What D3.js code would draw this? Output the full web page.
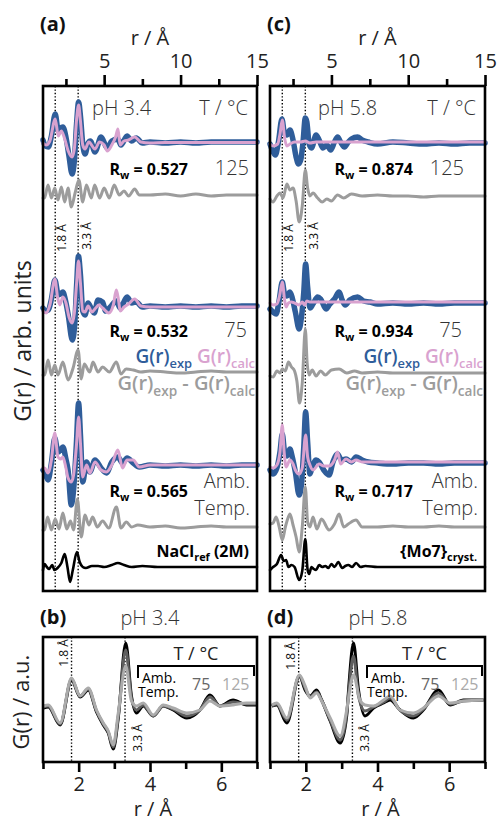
<!DOCTYPE html>
<html>
<head>
<meta charset="utf-8">
<script src="https://cdn.jsdelivr.net/npm/d3@7/dist/d3.min.js"></script>
<style>
  body { margin: 0; background: #fff; }
  svg { display: block; font-family: 'Open Sans', 'Noto Sans', sans-serif; }
</style>
</head>
<body>
<svg id="chart" width="497" height="821"></svg>
<script>
// ---- data (r in Å, G(r) in arbitrary units) ----
const rMarkers = [1.8, 3.3];
const topMajor = [5, 10, 15];
const topMinor = [2.5, 7.5, 12.5];
const botMajor = [2, 4, 6];
const botMinor = [1, 3, 5, 7];

const tempLabels = ['125', '75', 'Amb. Temp.'];
const rwA = ['0.527', '0.532', '0.565'];
const rwC = ['0.874', '0.934', '0.717'];

// vertical stacking offsets (arb. units)
const expOffA = [450, 286, 126];
const diffOffA = [396, 219, 64];
const expOffC = [449, 289, 129];
const diffOffC = [395, 218, 64];
const refOff = 24;

// (a) pH 3.4
const a125Exp = [[1.0,1],[1.15,-5],[1.35,-6],[1.55,5],[1.8,27],[2.0,10],[2.15,13],[2.3,14],[2.5,4],[2.7,-15],[2.9,-33],[3.05,-20],[3.2,18],[3.33,39],[3.45,25],[3.6,-3],[3.75,-13],[3.95,-2],[4.1,0],[4.4,-11],[4.8,4],[5.2,-7],[5.5,0],[5.9,2],[6.1,-4],[6.5,5],[6.8,0],[7.1,3],[7.5,-2],[8,-1],[9,-2],[10,-1],[11,-2],[12,-1],[13,-1],[14,-1],[15,-1]];
const a125Calc = [[1.0,-2],[1.2,-4],[1.45,0],[1.8,22],[2.0,5],[2.2,10],[2.4,3],[2.65,-10],[2.9,-16],[3.05,-8],[3.2,22],[3.33,36],[3.45,20],[3.6,-4],[3.75,-8],[4.0,-1],[4.4,-8],[4.7,-1],[5.0,-4],[5.2,-10],[5.5,-4],[5.75,4],[5.9,12],[6.05,-4],[6.3,0],[6.6,1],[7.0,4],[7.4,-1],[8,-2],[9,-1.5],[15,-1.5]];
const a125Diff = [[1.0,-3],[1.1,-3],[1.33,10],[1.55,-3],[1.77,7],[1.98,-5],[2.2,8],[2.42,-7],[2.64,7],[2.85,-12],[3.1,2],[3.35,15],[3.6,-7],[3.84,10],[4.16,-3],[4.38,10],[4.7,-3],[5.0,7],[5.34,-3],[5.66,10],[5.99,0],[6.3,4],[6.6,-1],[7.0,6],[7.3,0],[8,0],[9,1],[10,-1],[11,1],[12,-1],[13,0],[14,0],[15,0]];
const a75Exp = [[1.0,-3],[1.15,-6],[1.35,-5],[1.55,6],[1.78,25],[2.0,10],[2.15,11],[2.3,13],[2.45,6],[2.65,-10],[2.92,-35],[3.08,-18],[3.2,20],[3.32,49],[3.45,30],[3.6,-6],[3.75,-10],[3.95,2],[4.2,-5],[4.35,-8],[4.6,5],[4.9,3],[5.1,-6],[5.4,-2],[5.8,4],[6.05,-3],[6.5,8],[6.8,2],[7.1,3],[7.5,-2],[8,-1],[9,-2],[10,-1],[11,-2],[12,-1],[13,-2],[14,-1],[15,-1]];
const a75Calc = [[1.0,-6],[1.2,-8],[1.45,0],[1.78,26],[1.95,8],[2.1,0],[2.3,8],[2.5,2],[2.7,-12],[2.9,-18],[3.05,-8],[3.2,22],[3.32,44],[3.45,22],[3.6,-6],[3.75,-7],[3.95,-1],[4.2,-7],[4.45,-3],[4.65,0],[4.9,-3],[5.3,-8],[5.6,0],[5.8,15],[5.95,4],[6.05,-6],[6.3,-2],[6.6,1],[7.0,6],[7.4,-1],[8,-2],[9,-2],[15,-2]];
const a75Diff = [[1.0,-3],[1.11,-3],[1.33,12],[1.55,-3],[1.77,7],[1.98,-3],[2.3,10],[2.64,-8],[2.95,3],[3.3,22],[3.5,-7],[3.7,8],[4.06,0],[4.27,10],[4.6,0],[4.9,5],[5.34,0],[5.8,10],[6.1,-2],[6.44,3],[6.9,2],[7.4,0],[8,1],[9,0],[10,-1],[11,0],[12,1],[13,0],[14,0],[15,0]];
const aAmbExp = [[1.0,-5],[1.1,-7],[1.33,-15],[1.55,2],[1.77,27],[1.98,13],[2.15,15],[2.3,18],[2.5,6],[2.64,-5],[2.85,-40],[3.0,-25],[3.18,20],[3.33,62],[3.45,30],[3.6,-17],[3.85,3],[4.07,-7],[4.4,5],[4.8,-3],[5.15,-8],[5.5,3],[5.9,8],[6.2,2],[6.5,7],[6.9,2],[7.3,-2],[8,0],[9,-1],[10,0],[11,-1],[12,0],[13,-1],[14,0],[15,0]];
const aAmbCalc = [[1.0,-3],[1.1,-3],[1.33,-8],[1.55,5],[1.77,32],[1.98,8],[2.15,6],[2.3,8],[2.5,-3],[2.64,-13],[2.85,-17],[3.0,-10],[3.18,18],[3.33,48],[3.45,22],[3.6,-12],[3.85,0],[4.07,-8],[4.4,3],[4.8,-5],[5.15,-7],[5.5,0],[5.9,15],[6.2,-3],[6.5,5],[6.9,5],[7.3,-2],[8,0],[9,0],[15,0]];
const aAmbDiff = [[1.0,-3],[1.1,-3],[1.3,10],[1.55,-3],[1.8,8],[2.05,-2],[2.3,14],[2.55,-2],[2.8,6],[3.0,-3],[3.25,28],[3.5,-10],[3.75,12],[4.0,2],[4.25,10],[4.55,0],[4.9,6],[5.3,-1],[5.8,20],[6.1,-1],[6.45,5],[6.8,0],[7.2,2],[8,0],[9,1],[10,-1],[11,0],[12,1],[13,0],[14,0],[15,0]];
const naclRef = [[1.0,-3],[1.1,3],[1.25,0],[1.4,-2],[1.6,2],[1.75,-3],[1.95,-1],[2.2,4],[2.42,13],[2.6,0],[2.77,-15],[2.95,-3],[3.22,15],[3.4,5],[3.6,0],[3.8,-1],[4.2,1],[4.6,1],[5.0,0],[5.5,2],[5.9,4],[6.3,2],[6.8,0],[7.5,1],[8.5,0],[10,0],[12,0],[15,0]];

// (c) pH 5.8
const c125Exp = [[1.0,-2],[1.15,-8],[1.35,-13],[1.55,0],[1.78,23],[1.95,8],[2.1,7],[2.3,12],[2.5,2],[2.7,-15],[2.85,-22],[3.0,-18],[3.15,0],[3.3,24],[3.4,20],[3.55,-2],[3.7,-6],[4.0,7],[4.2,2],[4.45,-6],[4.7,-3],[4.95,-8],[5.2,0],[5.4,5],[5.6,0],[5.85,-5],[6.1,0],[6.3,3],[6.7,5],[7.0,2],[7.4,0],[8,-2],[9,0],[10,-1],[11,-2],[12,-1],[13,-2],[14,-1],[15,-1]];
const c125Calc = [[1.0,-2],[1.2,-4],[1.5,-2],[1.65,8],[1.8,22],[1.95,4],[2.1,-4],[2.3,-2],[2.6,0],[3.0,0],[3.3,1],[3.6,-1],[4,0],[5,0],[7,0],[15,0]];
const c125Diff = [[1.0,-3],[1.2,-6],[1.45,0],[1.65,3],[1.85,-2],[2.1,12],[2.3,6],[2.5,8],[2.7,-5],[2.9,-26],[3.1,-10],[3.3,26],[3.45,8],[3.6,0],[3.8,3],[4.1,-2],[4.4,-6],[4.7,-3],[5.0,-5],[5.4,1],[5.8,-2],[6.3,2],[7,0],[8,1],[9,0],[10,0],[11,-1],[12,0],[13,0],[14,0],[15,0]];
const c75Exp = [[1.0,-7],[1.2,-10],[1.4,-12],[1.6,2],[1.8,20],[1.95,8],[2.1,6],[2.3,10],[2.45,4],[2.65,-10],[2.9,-27],[3.05,-15],[3.2,10],[3.32,38],[3.45,15],[3.6,-6],[3.8,-2],[4.1,5],[4.3,3],[4.65,-7],[4.9,-2],[5.2,3],[5.5,10],[5.7,2],[5.9,-3],[6.2,2],[6.7,5],[7.1,1],[7.5,0],[8,-2],[9,-1],[10,-2],[11,-1],[12,-2],[13,-1],[14,-1],[15,-1]];
const c75Calc = [[1.0,-1],[1.2,-3],[1.45,-2],[1.62,6],[1.8,20],[1.95,2],[2.05,-5],[2.2,-1],[2.4,0],[2.6,-1],[2.9,-3],[3.1,0],[3.25,-3],[3.4,1],[3.6,0],[4,0],[5,0],[15,0]];
const c75Diff = [[1.0,-3],[1.2,-4],[1.45,2],[1.65,0],[1.8,4],[2.0,2],[2.2,11],[2.4,6],[2.6,2],[2.75,-8],[2.92,-30],[3.1,-10],[3.3,44],[3.42,10],[3.55,-2],[3.75,3],[4.0,-3],[4.3,2],[4.6,-2],[5.0,3],[5.5,4],[6,0],[6.5,2],[7,0],[8,1],[9,0],[10,0],[11,0],[12,0],[13,0],[14,0],[15,0]];
const cAmbExp = [[1.0,-8],[1.2,-12],[1.45,-6],[1.65,10],[1.8,28],[1.95,10],[2.1,6],[2.3,13],[2.45,5],[2.65,-10],[2.9,-33],[3.05,-22],[3.2,15],[3.32,50],[3.45,20],[3.6,-12],[3.75,-5],[4.0,2],[4.2,0],[4.5,-8],[4.85,-13],[5.1,0],[5.4,8],[5.65,2],[5.95,3],[6.3,0],[6.6,5],[7.0,2],[7.4,0],[8,-1],[9,-2],[10,-1],[11,-1],[12,-2],[13,-1],[14,-1],[15,-1]];
const cAmbCalc = [[1.0,-5],[1.2,-6],[1.45,-3],[1.65,10],[1.8,37],[1.92,10],[2.05,-5],[2.3,2],[2.5,-2],[2.65,-8],[2.9,-12],[3.1,-6],[3.32,27],[3.45,5],[3.6,-3],[3.8,-8],[4.2,-2],[4.5,-4],[4.85,-4],[5.2,2],[5.4,10],[5.6,-2],[5.95,3],[6.3,0],[6.6,2],[7.0,0],[8,0],[15,0]];
const cAmbDiff = [[1.0,3],[1.2,4],[1.4,10],[1.6,0],[1.8,-13],[2.0,0],[2.15,8],[2.3,13],[2.5,2],[2.7,-10],[2.9,-25],[3.1,0],[3.3,40],[3.45,5],[3.6,0],[3.8,10],[4.05,-2],[4.35,8],[4.85,-3],[5.2,3],[5.5,13],[5.8,0],[6.1,3],[6.6,7],[7.0,0],[8,0],[9,1],[10,0],[11,0],[12,1],[13,0],[14,0],[15,0]];
const mo7Ref = [[1.0,-3],[1.2,0],[1.45,3],[1.72,12],[1.9,6],[2.05,7],[2.2,0],[2.4,2],[2.6,0],[2.9,-13],[3.1,-4],[3.3,28],[3.45,-3],[3.55,-7],[3.7,0],[3.85,-2],[4.0,-3],[4.2,2],[4.4,0],[4.6,1],[4.8,-1],[5.0,3],[5.2,0],[5.45,5],[5.7,-1],[5.9,1],[6.1,2],[6.35,0],[6.6,4],[6.9,0],[7.2,1],[8,0],[9,0],[10,0],[12,0],[15,0]];

// (b) pH 3.4, experimental G(r) vs temperature
const bAmb = [[1.01,0],[1.15,1],[1.48,-17],[1.80,28],[2.04,11],[2.27,18],[2.50,-4],[2.69,-17],[2.83,-25],[2.97,-41],[3.11,-10],[3.32,65],[3.48,12],[3.62,-5],[3.81,2],[4.09,-8],[4.37,2],[4.65,-2],[5.03,-10],[5.40,-2],[5.68,13],[5.96,2],[6.33,8],[6.71,3],[6.99,3]];
const b75 = [[1.01,1],[1.15,2],[1.48,-16],[1.80,29],[2.04,12],[2.27,19],[2.50,-3],[2.69,-16],[2.83,-24],[2.97,-39],[3.11,-8],[3.32,58],[3.48,10],[3.62,-2],[3.81,3],[4.09,-8],[4.37,2],[4.65,-1],[5.03,-8],[5.40,-2],[5.68,11],[5.96,2],[6.33,6],[6.71,4],[6.99,4]];
const b125 = [[1.01,2],[1.15,3],[1.48,-15],[1.80,30],[2.04,12],[2.27,20],[2.50,-2],[2.69,-15],[2.83,-23],[2.97,-37],[3.11,-5],[3.32,42],[3.48,7],[3.62,2],[3.81,5],[4.09,-7],[4.37,3],[4.65,0],[5.03,-5],[5.40,-2],[5.68,7],[5.96,2],[6.33,3],[6.71,5],[6.99,5]];

// (d) pH 5.8
const dAmb = [[1.05,2],[1.19,3],[1.47,-15],[1.82,32],[1.98,18],[2.12,12],[2.30,18],[2.44,8],[2.68,-13],[2.96,-35],[3.14,-8],[3.2,22],[3.33,65],[3.47,18],[3.65,-8],[3.89,0],[4.17,5],[4.35,8],[4.63,-2],[5.0,-10],[5.28,-2],[5.70,18],[6.03,3],[6.4,8],[6.96,8]];
const d75 = [[1.05,2],[1.19,4],[1.47,-12],[1.82,32],[1.98,20],[2.12,11],[2.30,16],[2.44,8],[2.68,-12],[2.96,-32],[3.14,-5],[3.2,17],[3.33,52],[3.47,12],[3.65,-3],[3.89,1],[4.17,6],[4.35,10],[4.63,-2],[5.0,-8],[5.28,-1],[5.70,15],[6.03,4],[6.4,7],[6.96,8]];
const d125 = [[1.05,3],[1.19,5],[1.47,-10],[1.82,33],[1.98,22],[2.12,10],[2.30,15],[2.44,7],[2.68,-10],[2.96,-28],[3.14,-2],[3.2,12],[3.33,33],[3.51,8],[3.65,3],[3.89,2],[4.17,8],[4.35,12],[4.63,-2],[5.0,-5],[5.28,0],[5.70,12],[6.03,5],[6.4,7],[6.96,8]];

// ---- drawing ----
const BLUE = '#2f5d9a', PINK = '#d9a2cf', GREY = '#9c9c9c', TXT = '#333';
const svg = d3.select('#chart');

function txt(g, x, y, s, size, opts = {}) {
    return g.append('text').attr('x', x).attr('y', y)
        .attr('font-size', size)
        .attr('font-weight', opts.weight || 400)
        .attr('fill', opts.fill || TXT)
        .attr('text-anchor', opts.anchor || 'start')
        .text(s);
}

function subText(g, x, y, parts, size, opts = {}) {
    // parts: [[text, isSub, colour]]
    const t = g.append('text').attr('x', x).attr('y', y)
        .attr('font-size', size)
        .attr('font-weight', opts.weight || 400)
        .attr('text-anchor', opts.anchor || 'start');
    let down = false;
    parts.forEach(p => {
        const s = t.append('tspan').text(p[0]).attr('fill', p[2] || opts.fill || '#000');
        if (p[1] && !down) { s.attr('dy', size * 0.28).attr('font-size', size * 0.68); down = true; }
        else if (p[1]) { s.attr('font-size', size * 0.68); }
        else if (down) { s.attr('dy', -size * 0.28); down = false; }
    });
    return t;
}

function rotLabel(g, x, y, s, size, fill) {
    g.append('text').attr('transform', `translate(${x},${y}) rotate(-90)`)
        .attr('text-anchor', 'middle').attr('font-size', size)
        .attr('fill', fill || '#111').text(s);
}

function drawTop(p) {
    const g = svg.append('g');
    const x = d3.scaleLinear().domain([1, 15]).range([p.x0, p.x1]);
    const y = d3.scaleLinear().domain([0, 505]).range([591, 86]);

    rMarkers.forEach(m => g.append('line')
        .attr('x1', x(m)).attr('x2', x(m)).attr('y1', 86).attr('y2', 591)
        .attr('stroke', '#000').attr('stroke-width', 1.4).attr('stroke-dasharray', '1.4,2'));

    const line = off => d3.line().x(d => x(d[0])).y(d => y(d[1] + off)).curve(d3.curveMonotoneX);
    const path = (data, off, col, w) => g.append('path').datum(data)
        .attr('d', line(off)).attr('fill', 'none').attr('stroke', col)
        .attr('stroke-width', w).attr('stroke-linejoin', 'round').attr('stroke-linecap', 'round');

    p.rows.forEach((r, i) => {
        path(r[0], p.expOff[i], BLUE, 5.5);
        path(r[1], p.expOff[i], PINK, 3);
        path(r[2], p.diffOff[i], GREY, 3);
    });
    path(p.ref, refOff, '#000', 2.6);

    // frame + top axis
    g.append('rect').attr('x', p.x0).attr('y', 86).attr('width', p.x1 - p.x0).attr('height', 505)
        .attr('fill', 'none').attr('stroke', '#000').attr('stroke-width', 2.6);
    const ax = g.append('g').attr('transform', 'translate(0,86)')
        .call(d3.axisTop(x).tickValues(topMajor).tickSize(11).tickPadding(7).tickFormat(d3.format('d')));
    const axm = g.append('g').attr('transform', 'translate(0,86)')
        .call(d3.axisTop(x).tickValues(topMinor).tickSize(7).tickFormat(''));
    [ax, axm].forEach(a => {
        a.select('.domain').remove();
        a.selectAll('line').attr('stroke', '#000').attr('stroke-width', 2.6);
        a.selectAll('text').attr('font-size', 20).attr('fill', '#222');
        a.attr('font-family', null);
    });
    txt(g, (p.x0 + p.x1) / 2, 45, 'r / Å', 20, { anchor: 'middle', fill: '#222' });
    txt(g, p.x0 - 3, 31, p.tag, 20, { weight: 700, fill: '#111' });

    // annotations
    txt(g, p.phX, 115, p.ph, 20, { weight: 300 });
    txt(g, p.x1 - 9, 115, 'T / °C', 20, { weight: 300, anchor: 'end' });
    txt(g, p.tempX, 175, tempLabels[0], 20, { weight: 300, anchor: 'end' });
    txt(g, p.tempX - 2, 337, tempLabels[1], 20, { weight: 300, anchor: 'end' });
    const amb = tempLabels[2].split(' ');
    txt(g, p.x1 - 7, 488, amb[0], 20, { weight: 300, anchor: 'end' });
    txt(g, p.x1 - 7, 515, amb[1], 20, { weight: 300, anchor: 'end' });
    [175, 337, 497].forEach((yy, i) =>
        subText(g, p.rwX, yy, [['R'], ['w', true], [' = ' + p.rw[i]]], 16, { weight: 700, anchor: 'end' }));

    subText(g, p.x1 - 2, 363, [['G(r)', false, BLUE], ['exp', true, BLUE], ['   G(r)', false, PINK], ['calc', true, PINK]],
        19, { weight: 600, anchor: 'end' });
    subText(g, p.x1 - 2, 390, [['G(r)', false, GREY], ['exp', true, GREY], [' - G(r)', false, GREY], ['calc', true, GREY]],
        20, { weight: 600, anchor: 'end' });
    subText(g, p.x1 - 8, 557, p.refLabel, 16, { weight: 700, anchor: 'end' });

    rotLabel(g, x(rMarkers[0]) + 11, 238, '1.8 Å', 12);
    rotLabel(g, x(rMarkers[1]) + 13, 236, '3.3 Å', 12);
}

function drawBottom(p) {
    const g = svg.append('g');
    const x = d3.scaleLinear().domain([1, 7]).range([p.x0, p.x1]);
    const y = d3.scaleLinear().domain([-54, 71]).range([762, 637]);

    rMarkers.forEach(m => g.append('line')
        .attr('x1', x(m)).attr('x2', x(m)).attr('y1', 637).attr('y2', 762)
        .attr('stroke', '#000').attr('stroke-width', 1.4).attr('stroke-dasharray', '1.4,2'));

    const line = d3.line().x(d => x(d[0])).y(d => y(d[1])).curve(d3.curveMonotoneX);
    p.curves.forEach(c => g.append('path').datum(c[0]).attr('d', line)
        .attr('fill', 'none').attr('stroke', c[1]).attr('stroke-width', 3).attr('stroke-linejoin', 'round'));

    g.append('rect').attr('x', p.x0).attr('y', 637).attr('width', p.x1 - p.x0).attr('height', 125)
        .attr('fill', 'none').attr('stroke', '#000').attr('stroke-width', 2.6);
    const ax = g.append('g').attr('transform', 'translate(0,762)')
        .call(d3.axisBottom(x).tickValues(botMajor).tickSize(10).tickPadding(5).tickFormat(d3.format('d')));
    const axm = g.append('g').attr('transform', 'translate(0,762)')
        .call(d3.axisBottom(x).tickValues(botMinor).tickSize(7).tickFormat(''));
    [ax, axm].forEach(a => {
        a.select('.domain').remove();
        a.attr('font-family', null);
        a.selectAll('line').attr('stroke', '#000').attr('stroke-width', 2.6);
        a.selectAll('text').attr('font-size', 20).attr('fill', '#222');
    });
    txt(g, (p.x0 + p.x1) / 2 + 3, 816, 'r / Å', 20, { anchor: 'middle', fill: '#222' });
    txt(g, p.x0 - 3, 624, p.tag, 20, { weight: 700, fill: '#111' });
    txt(g, p.phX, 625, p.ph, 20, { weight: 300, anchor: 'middle' });

    rotLabel(g, x(rMarkers[0]) - 4, p.lab18Y, '1.8 Å', 12);
    rotLabel(g, x(rMarkers[1]) + 17, 738, '3.3 Å', 12);

    // temperature bracket
    const b = p.bracket;
    g.append('path').attr('d', `M${b[0]},678V666H${b[1]}V676`)
        .attr('fill', 'none').attr('stroke', '#000').attr('stroke-width', 2);
    txt(g, (b[0] + b[1]) / 2, 660, 'T / °C', 18, { anchor: 'middle', fill: '#222' });
    txt(g, b[0] + 4, 683, 'Amb.', 14, { fill: '#000' });
    txt(g, b[0], 697, 'Temp.', 14, { fill: '#000' });
    txt(g, b[0] + 54, 690, '75', 16, { fill: '#666' });
    txt(g, b[0] + 84, 690, '125', 16, { fill: '#aaa' });
}

drawTop({
    x0: 43, x1: 257, tag: '(a)', ph: 'pH 3.4', phX: 92, tempX: 249, rwX: 188,
    rw: rwA, expOff: expOffA, diffOff: diffOffA,
    rows: [[a125Exp, a125Calc, a125Diff], [a75Exp, a75Calc, a75Diff], [aAmbExp, aAmbCalc, aAmbDiff]],
    ref: naclRef, refLabel: [['NaCl'], ['ref', true], [' (2M)']]
});
drawTop({
    x0: 270, x1: 485, tag: '(c)', ph: 'pH 5.8', phX: 318, tempX: 464, rwX: 413,
    rw: rwC, expOff: expOffC, diffOff: diffOffC,
    rows: [[c125Exp, c125Calc, c125Diff], [c75Exp, c75Calc, c75Diff], [cAmbExp, cAmbCalc, cAmbDiff]],
    ref: mo7Ref, refLabel: [['{Mo7}'], ['cryst.', true]]
});
drawBottom({
    x0: 43, x1: 257, tag: '(b)', ph: 'pH 3.4', phX: 150, lab18Y: 653, bracket: [138, 254],
    curves: [[bAmb, '#000'], [b75, '#5e5e5e'], [b125, '#ababab']]
});
drawBottom({
    x0: 270, x1: 485, tag: '(d)', ph: 'pH 5.8', phX: 378, lab18Y: 656, bracket: [367, 482],
    curves: [[dAmb, '#000'], [d75, '#5e5e5e'], [d125, '#ababab']]
});

rotLabel(svg, 31, 341, 'G(r) / arb. units', 23, '#222');
rotLabel(svg, 29, 702, 'G(r) / a.u.', 22, '#222');
</script>
</body>
</html>
